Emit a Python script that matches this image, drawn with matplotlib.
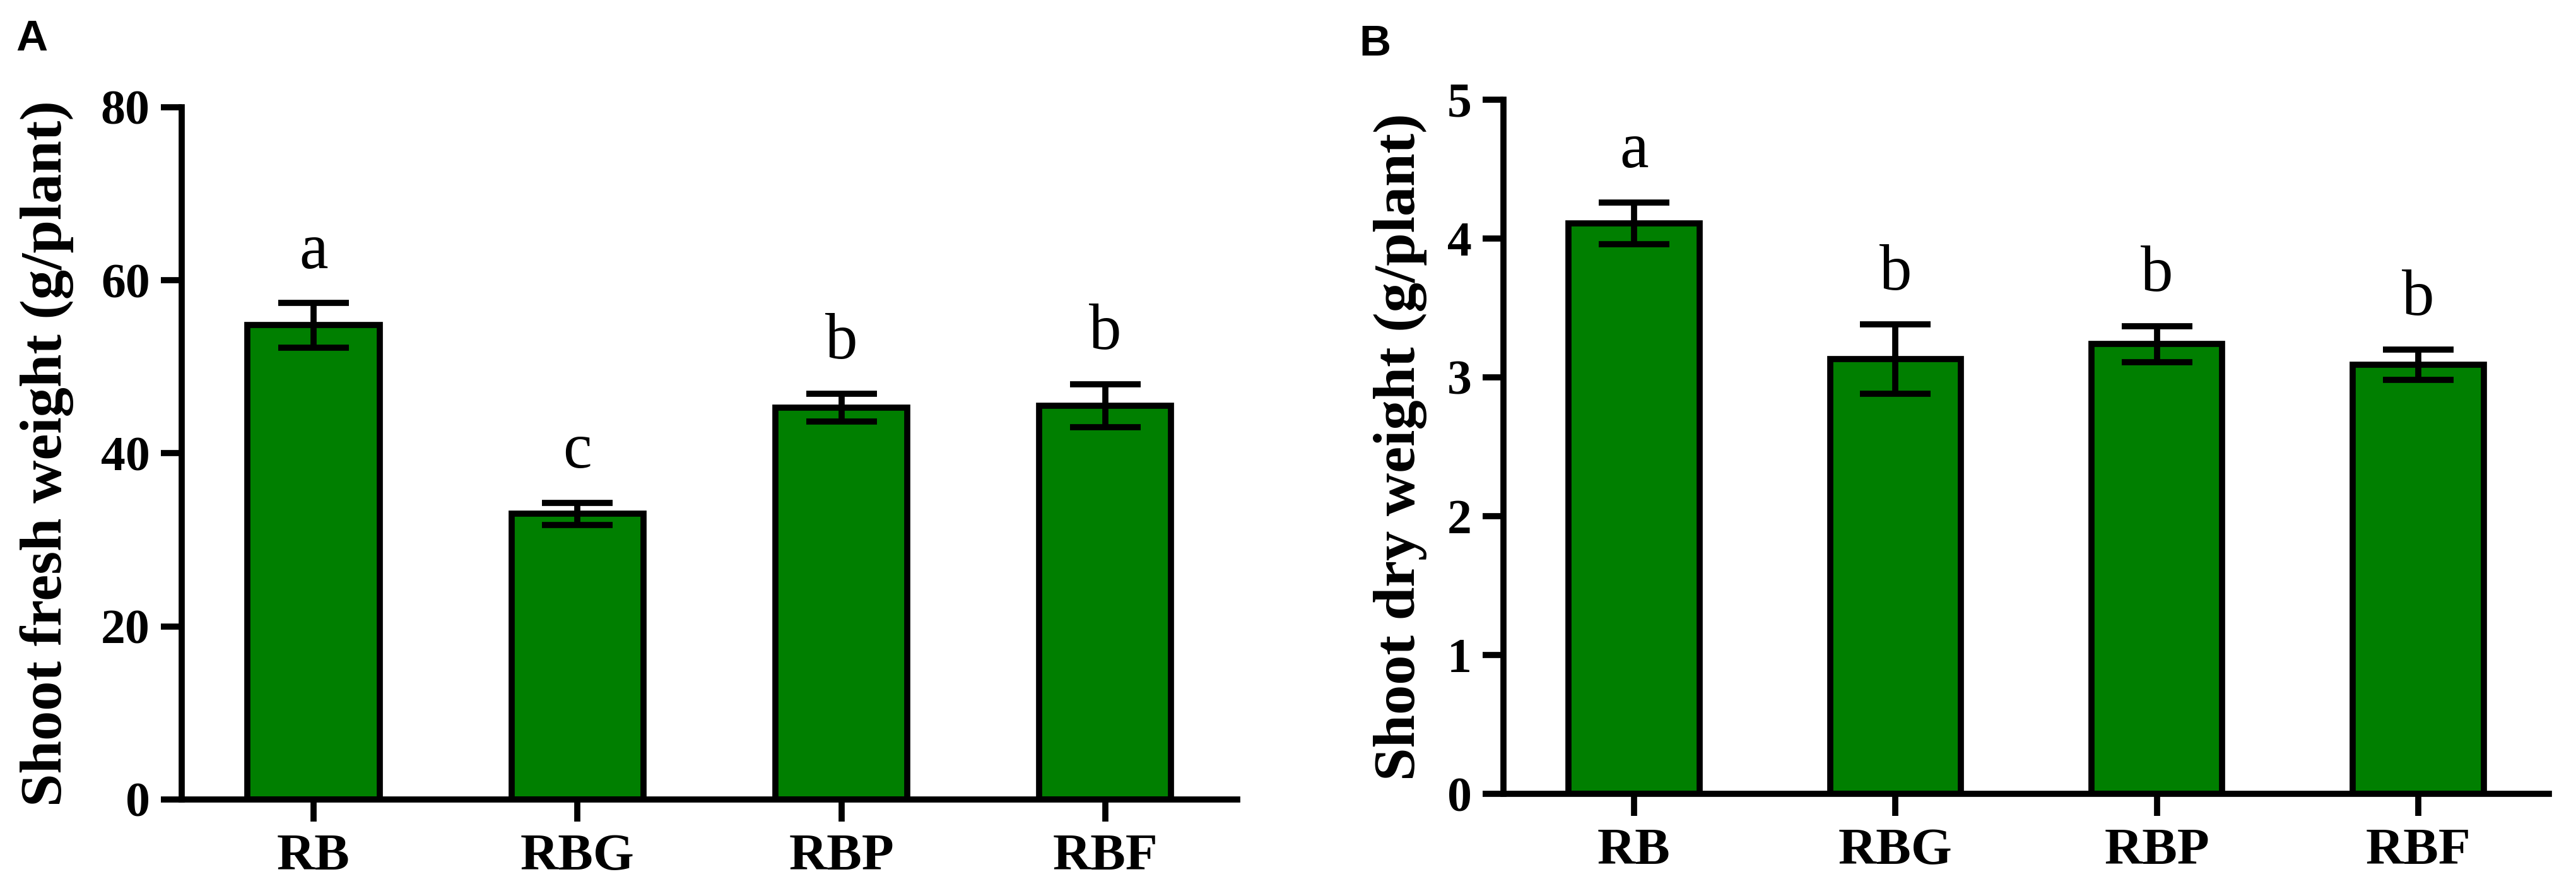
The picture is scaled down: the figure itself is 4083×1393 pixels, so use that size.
import matplotlib.pyplot as plt
import numpy as np

groups = ['RB', 'RBG', 'RBP', 'RBF']

# panel A - shoot fresh weight
fresh_mean = [54.8, 33.0, 45.3, 45.5]
fresh_err = [2.6, 1.3, 1.6, 2.5]
fresh_letters = ['a', 'c', 'b', 'b']

# panel B - shoot dry weight
dry_mean = [4.11, 3.13, 3.24, 3.09]
dry_err = [0.15, 0.25, 0.13, 0.11]
dry_letters = ['a', 'b', 'b', 'b']

green = '#007f00'
serif = 'Liberation Serif'
lw = 7


def draw_panel(ax, means, errs, letters, ylabel, ymax, step, label_x):
    x = np.arange(len(groups))
    ax.bar(x, means, width=0.5, color=green, edgecolor='black', linewidth=lw, zorder=2)
    ax.errorbar(x, means, yerr=errs, fmt='none', ecolor='black', elinewidth=lw,
                capsize=40, capthick=lw, zorder=3)
    for xi, m, e, t in zip(x, means, errs, letters):
        ax.annotate(t, (xi, m + e), xytext=(0, 24), textcoords='offset points',
                    ha='center', va='bottom', fontsize=74, family=serif)
    ax.set_xlim(-0.5, 3.5)
    ax.set_ylim(0, ymax)
    ax.set_yticks(np.arange(0, ymax + step / 2, step))
    ax.set_xticks(x)
    ax.set_xticklabels(groups)
    for s in ['top', 'right']:
        ax.spines[s].set_visible(False)
    for s in ['left', 'bottom']:
        ax.spines[s].set_linewidth(lw)
    ax.tick_params(axis='y', length=24, width=lw, pad=12, labelsize=56)
    ax.tick_params(axis='x', length=25, width=lw, pad=14, labelsize=60)
    for lab in ax.get_xticklabels() + ax.get_yticklabels():
        lab.set_fontfamily(serif)
        lab.set_fontweight('bold')
    ax.set_ylabel(ylabel, fontsize=68, family=serif, fontweight='bold')
    ax.yaxis.set_label_coords(label_x, 0.5)


fig = plt.figure(figsize=(40.83, 13.93), dpi=100)
ax1 = fig.add_axes([0.0705, 0.0905, 0.4098, 0.7875])
ax2 = fig.add_axes([0.5836, 0.0969, 0.4059, 0.7897])

draw_panel(ax1, fresh_mean, fresh_err, fresh_letters, 'Shoot fresh weight (g/plant)', 80, 20, -0.102)
draw_panel(ax2, dry_mean, dry_err, dry_letters, 'Shoot dry weight (g/plant)', 5, 1, -0.073)

fig.text(25 / 4083, 1 - 30 / 1393, 'A', fontsize=50, fontweight='bold',
         family='Liberation Sans', ha='left', va='top')
fig.text(2154 / 4083, 1 - 38 / 1393, 'B', fontsize=50, fontweight='bold',
         family='Liberation Sans', ha='left', va='top')

fig.savefig('out.png', dpi=100)
